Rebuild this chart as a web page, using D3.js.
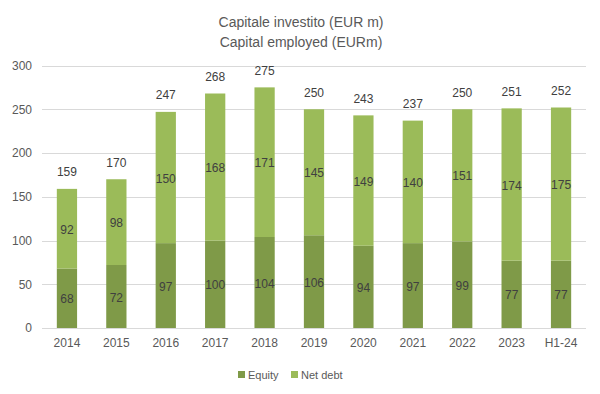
<!DOCTYPE html>
<html>
<head>
<meta charset="utf-8">
<script src="https://cdn.jsdelivr.net/npm/d3@7"></script>
<style>
  body { margin: 0; background: #fff; }
  svg { display: block; font-family: "Liberation Sans", Arial, sans-serif; }
</style>
</head>
<body>
<svg id="chart" width="600" height="394"></svg>
<script>
var years = ['2014', '2015', '2016', '2017', '2018', '2019', '2020', '2021', '2022', '2023', 'H1-24'];
var equity = [68, 72, 97, 100, 104, 106, 94, 97, 99, 77, 77];
var netDebt = [92, 98, 150, 168, 171, 145, 149, 140, 151, 174, 175];
var totals = [159, 170, 247, 268, 275, 250, 243, 237, 250, 251, 252];
var yTicks = [0, 50, 100, 150, 200, 250, 300];

var darkGreen = '#7f9a48';
var lightGreen = '#9bbb59';

var chart = d3.select('#chart');
var plotLeft = 42, plotRight = 586, plotTop = 65.5, plotBottom = 328;

var x = d3.scaleBand().domain(years).range([plotLeft, plotRight]).paddingInner(0.59).paddingOuter(0.3);
var y = d3.scaleLinear().domain([0, 300]).range([plotBottom, plotTop]);

// title
chart.append('text').attr('x', 301).attr('y', 27).attr('text-anchor', 'middle')
  .attr('font-size', 14).attr('fill', '#595959')
  .text('Capitale investito (EUR m)');
chart.append('text').attr('x', 301).attr('y', 47).attr('text-anchor', 'middle')
  .attr('font-size', 14).attr('fill', '#595959')
  .text('Capital employed (EURm)');

// gridlines
chart.append('g').selectAll('line').data(yTicks).enter().append('line')
  .attr('x1', plotLeft).attr('x2', plotRight)
  .attr('y1', d => Math.round(y(d)) + 0.5).attr('y2', d => Math.round(y(d)) + 0.5)
  .attr('stroke', '#d9d9d9').attr('stroke-width', 1);

// y axis labels
var yAxis = chart.append('g').attr('transform', 'translate(' + (plotLeft - 10) + ',0)')
  .call(d3.axisLeft(y).tickValues(yTicks).tickSize(0).tickPadding(0));
yAxis.select('.domain').remove();
yAxis.selectAll('text').attr('font-size', 12).attr('fill', '#595959').attr('font-family', '"Liberation Sans", Arial, sans-serif');

// x axis labels
var xAxis = chart.append('g').attr('transform', 'translate(0,' + (plotBottom + 10) + ')')
  .call(d3.axisBottom(x).tickSize(0).tickPadding(0));
xAxis.select('.domain').remove();
xAxis.selectAll('text').attr('font-size', 12).attr('fill', '#595959').attr('font-family', '"Liberation Sans", Arial, sans-serif');

var rows = years.map((yr, i) => ({ year: yr, equity: equity[i], netDebt: netDebt[i], total: totals[i] }));

var bars = chart.append('g');
bars.selectAll('rect.eq').data(rows).enter().append('rect')
  .attr('x', d => x(d.year)).attr('width', x.bandwidth())
  .attr('y', d => y(d.equity)).attr('height', d => y(0) - y(d.equity))
  .attr('fill', darkGreen);
bars.selectAll('rect.nd').data(rows).enter().append('rect')
  .attr('x', d => x(d.year)).attr('width', x.bandwidth())
  .attr('y', d => y(d.total)).attr('height', d => y(d.equity) - y(d.total))
  .attr('fill', lightGreen);

var labels = chart.append('g').attr('font-size', 12).attr('fill', '#404040').attr('text-anchor', 'middle');
labels.selectAll('text.eq').data(rows).enter().append('text')
  .attr('x', d => x(d.year) + x.bandwidth() / 2)
  .attr('y', d => (y(0) + y(d.equity)) / 2 + 5)
  .text(d => d.equity);
labels.selectAll('text.nd').data(rows).enter().append('text')
  .attr('x', d => x(d.year) + x.bandwidth() / 2)
  .attr('y', d => (y(d.equity) + y(d.total)) / 2 + 5)
  .text(d => d.netDebt);
labels.selectAll('text.tot').data(rows).enter().append('text')
  .attr('x', d => x(d.year) + x.bandwidth() / 2)
  .attr('y', d => y(d.total) - 12.5)
  .text(d => d.total);

// legend
var legend = chart.append('g').attr('font-size', 11).attr('fill', '#595959');
var items = [{ name: 'Equity', color: darkGreen, x: 238 }, { name: 'Net debt', color: lightGreen, x: 291 }];
items.forEach(it => {
  legend.append('rect').attr('x', it.x).attr('y', 371).attr('width', 7).attr('height', 7).attr('fill', it.color);
  legend.append('text').attr('x', it.x + 10).attr('y', 378.5).text(it.name);
});
</script>
</body>
</html>
